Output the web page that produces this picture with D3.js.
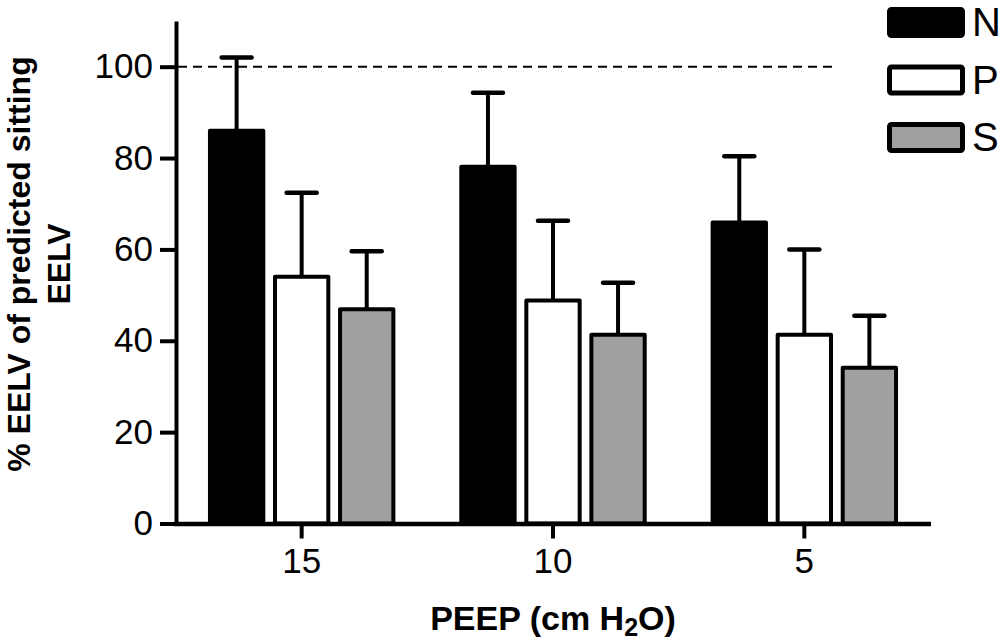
<!DOCTYPE html>
<html>
<head>
<meta charset="utf-8">
<script src="https://cdn.jsdelivr.net/npm/d3@7"></script>
<style>
  html, body { margin: 0; padding: 0; background: #fff; }
  svg { display: block; font-family: "Liberation Sans", Arial, sans-serif; }
</style>
</head>
<body>
<svg id="chart" width="1004" height="640"></svg>
<script>
// ---- data ----
const categories = ["15", "10", "5"];
const series = ["N", "P", "S"];
const meanN = [86.0, 78.1, 65.9];
const meanP = [54.0, 48.8, 41.3];
const meanS = [46.9, 41.3, 34.1];
const sdN = [16.0, 16.2, 14.5];
const sdP = [18.4, 17.5, 18.7];
const sdS = [12.7, 11.4, 11.4];
const yTicks = [0, 20, 40, 60, 80, 100];
const referenceValue = 100;
const yTitleLines = ["% EELV of predicted sitting", "EELV"];

const colors = { N: "#000000", P: "#ffffff", S: "#a0a0a0" };
const means = { N: meanN, P: meanP, S: meanS };
const sds = { N: sdN, P: sdP, S: sdS };

const rows = [];
categories.forEach((c, i) => {
  series.forEach(s => rows.push({ cat: c, ser: s, mean: means[s][i], sd: sds[s][i] }));
});

// ---- scales ----
const svg = d3.select("#chart");
const x0 = d3.scaleBand().domain(categories).range([176, 930]).padding(0);
const x1 = d3.scaleBand().domain(series).range([0, x0.bandwidth()])
  .paddingInner(0.18).paddingOuter(0.522);
const y = d3.scaleLinear().domain([0, 110]).range([523.5, 21]);

// ---- reference dashed line ----
svg.append("line")
  .attr("x1", 178).attr("x2", 835)
  .attr("y1", y(referenceValue)).attr("y2", y(referenceValue))
  .attr("stroke", "#000").attr("stroke-width", 2)
  .attr("stroke-dasharray", "9,6");

// ---- error bars (upper only) ----
const eb = svg.append("g");
rows.forEach(d => {
  const cx = x0(d.cat) + x1(d.ser) + x1.bandwidth() / 2;
  eb.append("line")
    .attr("x1", cx).attr("x2", cx)
    .attr("y1", y(d.mean)).attr("y2", y(d.mean + d.sd))
    .attr("stroke", "#000").attr("stroke-width", 4);
  eb.append("line")
    .attr("x1", cx - 15).attr("x2", cx + 15)
    .attr("y1", y(d.mean + d.sd)).attr("y2", y(d.mean + d.sd))
    .attr("stroke", "#000").attr("stroke-width", 4.5)
    .attr("stroke-linecap", "round");
});

// ---- bars ----
svg.append("g").selectAll("rect").data(rows).join("rect")
  .attr("x", d => x0(d.cat) + x1(d.ser))
  .attr("width", x1.bandwidth())
  .attr("y", d => y(d.mean))
  .attr("height", d => y(0) - y(d.mean))
  .attr("fill", d => colors[d.ser])
  .attr("stroke", "#000").attr("stroke-width", 4)
  .attr("stroke-linejoin", "round");

// ---- axes ----
const yAxis = svg.append("g").attr("transform", "translate(176,0)")
  .call(d3.axisLeft(y).tickValues(yTicks).tickSize(16).tickSizeOuter(0).tickPadding(7));
yAxis.select(".domain").attr("stroke-width", 4);
yAxis.selectAll(".tick line").attr("stroke-width", 4);
yAxis.selectAll(".tick text").attr("font-size", 35).attr("fill", "#000")
  .attr("font-family", "Liberation Sans, Arial, sans-serif");

const xAxis = svg.append("g").attr("transform", `translate(0,${y(0)})`)
  .call(d3.axisBottom(x0).tickSize(15).tickSizeOuter(0).tickPadding(10));
xAxis.select(".domain").attr("stroke-width", 4.5).attr("d", `M174,0.5H931`);
xAxis.selectAll(".tick line").attr("stroke-width", 4);
xAxis.selectAll(".tick text").attr("font-size", 35).attr("fill", "#000")
  .attr("font-family", "Liberation Sans, Arial, sans-serif");

// ---- axis titles ----
const xt = svg.append("text")
  .attr("x", 553).attr("y", 630)
  .attr("text-anchor", "middle")
  .attr("font-size", 34).attr("font-weight", "bold");
xt.append("tspan").text("PEEP (cm H");
xt.append("tspan").attr("font-size", 25).attr("dy", 6).text("2");
xt.append("tspan").attr("dy", -6).text("O)");

const yt = svg.append("text")
  .attr("transform", "translate(30,264) rotate(-90)")
  .attr("text-anchor", "middle")
  .attr("font-size", 32).attr("font-weight", "bold");
yTitleLines.forEach((t, i) => {
  yt.append("tspan").attr("x", 0).attr("y", i * 40).text(t);
});

// ---- legend ----
const lg = svg.append("g");
series.forEach((s, i) => {
  const top = 7 + i * 57.5;
  lg.append("rect")
    .attr("x", 889.5).attr("y", top + 2.5)
    .attr("width", 73).attr("height", 26)
    .attr("rx", 2)
    .attr("fill", colors[s]).attr("stroke", "#000").attr("stroke-width", 5);
  lg.append("text")
    .attr("x", 972).attr("y", top + 29)
    .attr("font-size", 40).attr("fill", "#000")
    .text(s);
});
</script>
</body>
</html>
